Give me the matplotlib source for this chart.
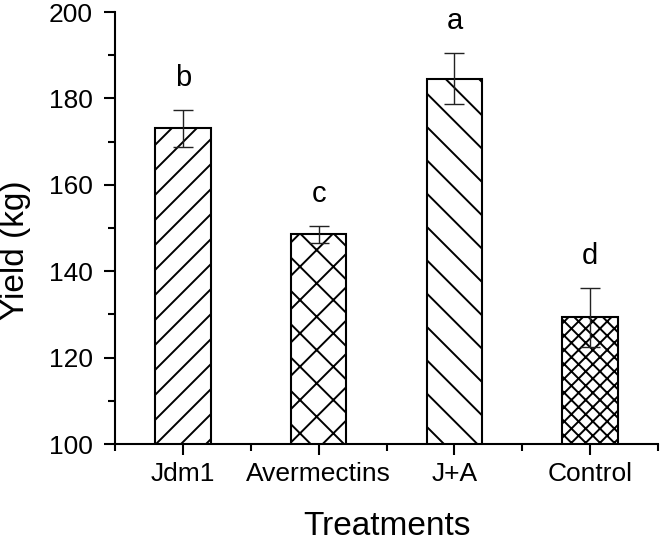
import matplotlib
matplotlib.use('Agg')
import matplotlib.pyplot as plt
import matplotlib.hatch as mhatch
from matplotlib.ticker import MultipleLocator, FixedLocator

# ---- data ----
treatments = ['Jdm1', 'Avermectins', 'J+A', 'Control']
yield_kg = [173.1, 148.5, 184.6, 129.3]
errors = [4.3, 2.0, 6.0, 6.8]
letters = ['b', 'c', 'a', 'd']
hatches = ['/', 'x', '\\', 'xx']

# hatch line densities (lines per inch per hatch character)
_HATCH_DENSITY = {'/': 8, 'x': 6, '\\': 6, 'xx': 7}
_orig_get_path = mhatch.get_path


def _get_path(hatchpattern, density=6):
    return _orig_get_path(hatchpattern, _HATCH_DENSITY.get(hatchpattern, density))


mhatch.get_path = _get_path

plt.rcParams['font.family'] = ['Liberation Sans', 'DejaVu Sans']
plt.rcParams['hatch.linewidth'] = 1.4

W, H = 661, 542
fig = plt.figure(figsize=(W / 100, H / 100), dpi=100)
ax = fig.add_axes([115 / W, 1 - 444 / H, (658 - 115) / W, (444 - 12) / H])

x = list(range(1, len(treatments) + 1))
bars = ax.bar(x, yield_kg, width=0.41, color='white', edgecolor='black',
              linewidth=1.5, zorder=2)
for b, h in zip(bars, hatches):
    b.set_hatch(h)

ax.errorbar(x, yield_kg, yerr=errors, fmt='none', ecolor='#222222',
            elinewidth=1.0, capsize=7, capthick=1.0, zorder=3)

for xi, v, e, l in zip(x, yield_kg, errors, letters):
    ax.text(xi, v + e + 5.5, l, ha='center', va='baseline', fontsize=21)

ax.set_xlim(0.5, 4.5)
ax.set_ylim(100, 200)
ax.set_xticks(x)
ax.set_xticklabels(treatments)
ax.xaxis.set_minor_locator(FixedLocator([0.5, 1.5, 2.5, 3.5, 4.5]))
ax.yaxis.set_major_locator(MultipleLocator(20))
ax.yaxis.set_minor_locator(MultipleLocator(10))

for s in ['top', 'right']:
    ax.spines[s].set_visible(False)
for s in ['left', 'bottom']:
    ax.spines[s].set_linewidth(1.5)

ax.tick_params(axis='both', which='major', direction='out', length=8,
               width=1.5, labelsize=19)
ax.tick_params(axis='both', which='minor', direction='out', length=5,
               width=1.5)
ax.tick_params(axis='x', which='major', pad=5)
ax.tick_params(axis='y', which='major', pad=8)

fig.text(16 / W, 1 - 250 / H, 'Yield (kg)', rotation=90, ha='center',
         va='center', fontsize=24)
fig.text(386.5 / W, 7 / H, 'Treatments', ha='center', va='baseline',
         fontsize=24)

fig.savefig('out.png', dpi=100)
